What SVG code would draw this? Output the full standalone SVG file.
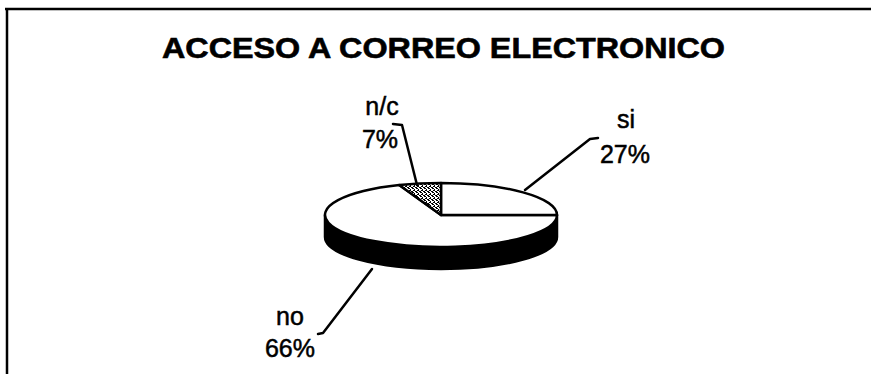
<svg xmlns="http://www.w3.org/2000/svg" width="871" height="374" viewBox="0 0 871 374">
  <style>
    .title { font-family: "Liberation Sans", Arial, sans-serif; font-weight: bold; font-size: 29px; fill: #000; stroke: #000; stroke-width: 0.6; }
    .lbl { font-family: "Liberation Sans", Arial, sans-serif; font-size: 25px; fill: #000; text-anchor: middle; stroke: #000; stroke-width: 0.5; }
    .lead { fill: none; stroke: #000; stroke-width: 2.5; stroke-linejoin: round; stroke-linecap: round; }
    .edge { stroke: #000; stroke-width: 2.5; stroke-linejoin: round; }
  </style>
  <defs>
    <pattern id="speck" width="4" height="4" patternUnits="userSpaceOnUse">
      <rect width="4" height="4" fill="#fff"/>
      <rect x="0" y="0" width="2" height="1" fill="#000"/>
      <rect x="2" y="1" width="1" height="2" fill="#000"/>
      <rect x="1" y="2" width="1" height="1" fill="#000"/>
      <rect x="3" y="3" width="1" height="1" fill="#000"/>
      <rect x="0" y="3" width="1" height="1" fill="#000"/>
    </pattern>
  </defs>
  <rect width="871" height="374" fill="#fff"/>
  <g id="frame">
    <line x1="5" y1="9" x2="871" y2="9" stroke="#000" stroke-width="2.5"/>
    <line x1="7" y1="8" x2="7" y2="374" stroke="#000" stroke-width="2.5"/>
  </g>
  <g id="title">
    <text class="title" x="162" y="58" textLength="563" lengthAdjust="spacingAndGlyphs">ACCESO A CORREO ELECTRONICO</text>
  </g>
  <g id="pie">
    <path class="edge" d="M325,215 L325,237 A116,32 0 0 0 557,237 L557,215 A116,32 0 0 1 325,215 Z" fill="#000"/>
    <g id="slice-no">
      <path class="edge" d="M441,215 L399.2,185.1 A116,32 0 1 0 557,215 Z" fill="#fff"/>
    </g>
    <g id="slice-si">
      <path class="edge" d="M441,215 L557,215 A116,32 0 0 0 441,183 Z" fill="#fff"/>
    </g>
    <g id="slice-nc">
      <path class="edge" d="M441,215 L441,183 A116,32 0 0 0 399.2,185.1 Z" fill="url(#speck)"/>
    </g>
  </g>
  <g id="connectors">
    <polyline class="lead" points="393,124 402,125 417,185"/>
    <polyline class="lead" points="525,190 590,139 598,138"/>
    <polyline class="lead" points="372,269 323,333 318,334"/>
  </g>
  <g id="label-nc">
    <text class="lbl" x="382" y="115">n/c</text>
    <text class="lbl" x="380" y="148">7%</text>
  </g>
  <g id="label-si">
    <text class="lbl" x="626" y="128">si</text>
    <text class="lbl" x="625" y="163">27%</text>
  </g>
  <g id="label-no">
    <text class="lbl" x="290" y="325">no</text>
    <text class="lbl" x="290" y="357">66%</text>
  </g>
</svg>
